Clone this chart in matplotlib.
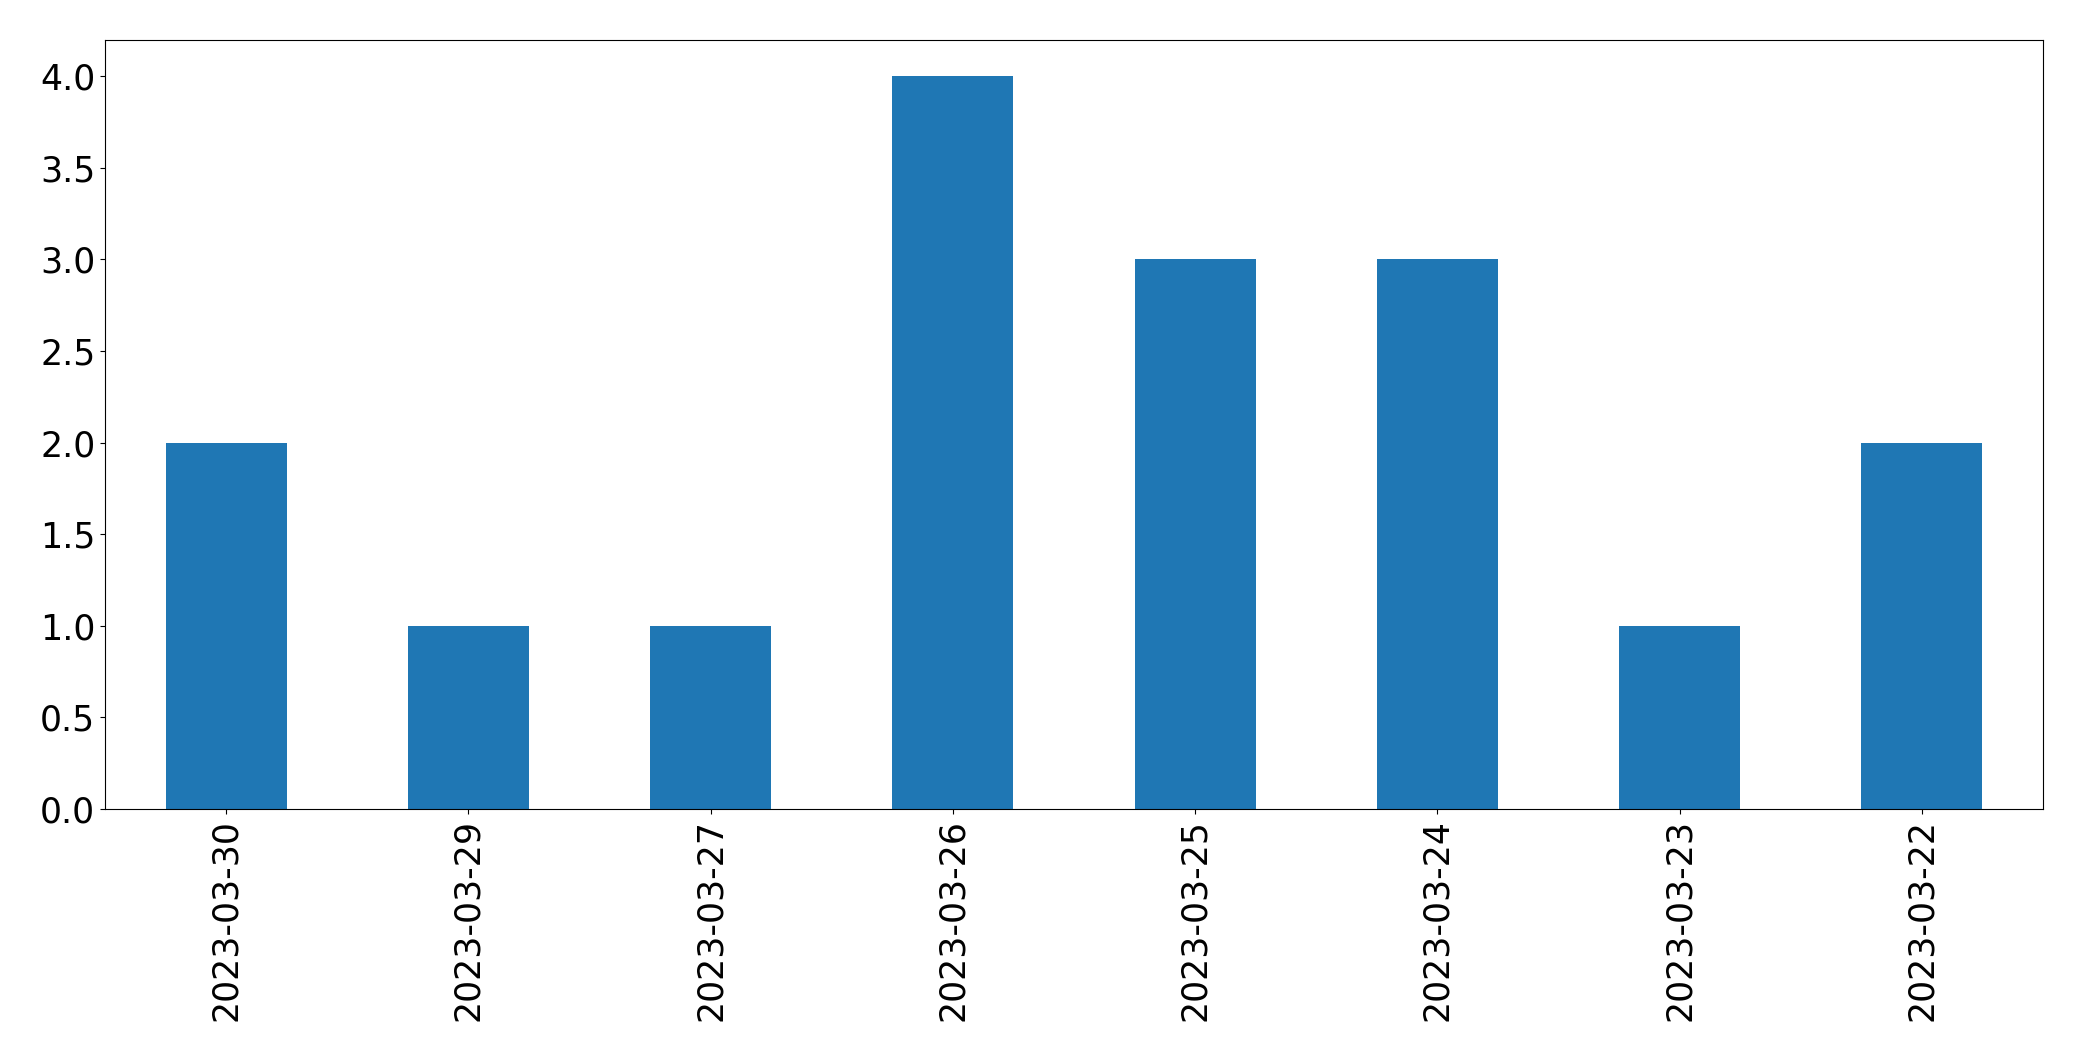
import matplotlib
matplotlib.use('Agg')
import matplotlib.pyplot as plt
import pandas as pd

# counts per day, in the order they were plotted
dates = ['2023-03-30', '2023-03-29', '2023-03-27', '2023-03-26',
         '2023-03-25', '2023-03-24', '2023-03-23', '2023-03-22']
counts = [2, 1, 1, 4, 3, 3, 1, 2]

s = pd.Series(counts, index=dates)

fig = plt.figure(figsize=(20.82, 10.61), dpi=100)
ax = fig.add_axes([105/2082, 1 - 809/1061, (2043-105)/2082, (809-39.5)/1061])
s.plot(kind='bar', ax=ax, color='#1f77b4')
ax.tick_params(axis='both', labelsize=25)
fig.savefig('out.png', dpi=100)
